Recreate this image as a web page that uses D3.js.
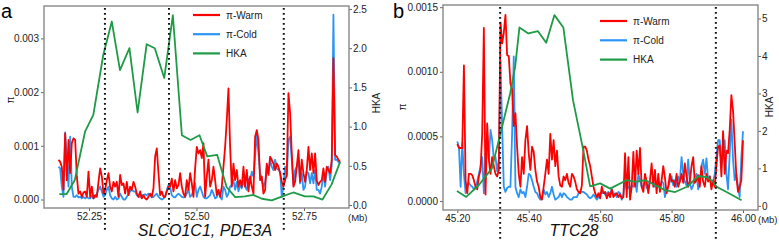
<!DOCTYPE html>
<html>
<head>
<meta charset="utf-8">
<script src="https://cdn.jsdelivr.net/npm/d3@7"></script>
<style>
  body { margin: 0; background: #fff; }
  svg { display: block; font-family: "Liberation Sans", Arial, sans-serif; }
</style>
</head>
<body>
<svg id="chart" width="779" height="240"></svg>
<script>
// ---- panel a : SLCO1C1, PDE3A ----
const windowsA = [52.179, 52.834]   // first and last window centre (Mb)
const warmA = [
  0.00074,0.00070,0.00061,0.00018,0.00123,0.00036,0.00111,0.00049,0.00105,0.00114,
  0.00111,0.00043,0.00011,0.00015,0.00005,0.00013,0.00015,0.00005,
  0.00052,0.00005,0.00024,0.00002,0.00008,0.00005,0.00033,0.00058,0.00043,0.00011,
  0.00018,0.00036,0.00049,0.00024,0.00015,0.00033,0.00024,0.00033,0.00005,0.00046,
  0.00027,0.00030,0.00011,0.00033,0.00008,0.00024,0.00018,0.00033,0.00024,0.00011,
  0.00005,0.00015,0.00002,0.00008,0.00002,0.00000,0.00005,0.00011,0.00005,0.00021,
  0.00080,0.00095,0.00049,0.00008,0.00015,0.00005,0.00005,0.00015,0.00024,0.00024,
  0.00039,0.00015,0.00036,0.00021,0.00027,0.00049,0.00024,0.00011,0.00005,0.00036,
  0.00018,0.00049,0.00030,0.00005,0.00058,0.00098,0.00086,0.00092,0.00077,0.00105,
  0.00005,0.00043,0.00074,0.00024,0.00036,0.00061,0.00036,0.00008,0.00018,0.00005,
  0.00024,0.00061,0.00098,0.00148,0.00207,0.00098,0.00024,0.00067,0.00036,0.00055,
  0.00024,0.00036,0.00024,0.00061,0.00024,0.00055,0.00015,0.00043,0.00024,0.00011,
  0.00117,0.00129,0.00111,0.00036,0.00043,0.00011,0.00018,0.00067,0.00046,0.00080,
  0.00074,0.00067,0.00055,0.00067,0.00061,0.00049,0.00033,0.00024,0.00036,0.00046,
  0.00198,0.00161,0.00086,0.00024,0.00033,0.00061,0.00092,0.00033,0.00074,0.00049,
  0.00033,0.00055,0.00098,0.00055,0.00086,0.00049,0.00086,0.00036,0.00027,0.00033,
  0.00036,0.00058,0.00033,0.00061,0.00055,0.00049,0.00074,0.00263,0.00083,0.00080,
  0.00074,0.00070
]
const coldA = [
  0.00061,0.00058,0.00024,0.00005,0.00125,0.00074,0.00024,0.00117,0.00024,0.00005,
  0.00005,0.00008,0.00004,0.00005,0.00002,0.00005,0.00002,0.00005,0.00002,0.00002,
  0.00007,0.00002,0.00004,0.00011,0.00018,0.00024,0.00015,0.00005,0.00008,0.00018,
  0.00024,0.00008,0.00002,0.00000,0.00005,0.00000,0.00002,0.00011,0.00005,0.00000,
  0.00000,0.00005,0.00011,0.00015,0.00018,0.00015,0.00015,0.00008,0.00005,0.00005,
  0.00008,0.00008,0.00010,0.00008,0.00011,0.00008,0.00004,0.00005,0.00008,0.00011,
  0.00005,0.00002,0.00000,0.00002,0.00005,0.00018,0.00027,0.00024,0.00008,0.00005,
  0.00004,0.00008,0.00011,0.00008,0.00005,0.00004,0.00005,0.00011,0.00019,0.00005,
  0.00008,0.00018,0.00030,0.00005,0.00018,0.00024,0.00015,0.00005,0.00002,0.00002,
  0.00005,0.00008,0.00018,0.00011,0.00002,0.00004,0.00015,0.00005,0.00000,0.00024,
  0.00018,0.00005,0.00011,0.00024,0.00027,0.00036,0.00018,0.00033,0.00015,0.00027,
  0.00021,0.00036,0.00024,0.00018,0.00039,0.00033,0.00052,0.00043,0.00080,0.00123,
  0.00086,0.00049,0.00036,0.00024,0.00033,0.00061,0.00049,0.00074,0.00061,0.00055,
  0.00074,0.00058,0.00055,0.00052,0.00005,0.00027,0.00061,0.00043,0.00111,0.00117,
  0.00074,0.00027,0.00055,0.00061,0.00074,0.00030,0.00049,0.00018,0.00024,0.00052,
  0.00049,0.00030,0.00049,0.00030,0.00055,0.00018,0.00018,0.00011,0.00024,0.00049,
  0.00024,0.00055,0.00061,0.00036,0.00064,0.00344,0.00074,0.00074,0.00070,0.00067
]
const hkaPosA = [52.181, 52.198, 52.217, 52.241, 52.260, 52.283, 52.303, 52.322, 52.344, 52.363,
  52.384, 52.403, 52.425, 52.445, 52.466, 52.486, 52.507, 52.525, 52.548, 52.570,
  52.590, 52.613, 52.632, 52.652, 52.675, 52.700, 52.725, 52.752, 52.772, 52.793,
  52.814, 52.834]
const hkaA = [0.14, 0.14, 0.32, 0.94, 1.15, 1.91, 2.34, 1.72, 2.00, 1.18,
  2.05, 2.00, 1.62, 2.42, 0.89, 0.83, 0.89, 0.62, 0.64, 0.23,
  0.10, 0.11, 0.13, 0.08, 0.06, 0.11, 0.16, 0.11, 0.11, 0.07,
  0.26, 0.55]
const markersA = [52.287, 52.436, 52.703]
const ticksXA = [52.25, 52.50, 52.75]
const ticksPiA = [0, 0.001, 0.002, 0.003]
const ticksHkaA = [0, 0.5, 1, 1.5, 2, 2.5]

// ---- panel b : TTC28 ----
const windowsB = [45.20, 46.00]
const warmB = [
  0.00044,0.00041,0.00041,0.00041,0.00105,0.00016,0.00006,0.00021,0.00021,0.00020,
  0.00016,0.00011,0.00009,0.00019,0.00024,0.00052,0.00134,0.00005,0.00060,0.00032,
  0.00021,0.00034,0.00027,0.00021,0.00019,0.00024,0.00138,0.00122,0.00130,0.00144,
  0.00113,0.00112,0.00091,0.00086,0.00058,0.00068,0.00042,0.00021,0.00011,0.00034,
  0.00021,0.00047,0.00058,0.00037,0.00024,0.00042,0.00038,0.00024,0.00015,0.00011,
  0.00003,0.00001,0.00011,0.00021,0.00032,0.00021,0.00052,0.00032,0.00047,0.00027,
  0.00039,0.00019,0.00012,0.00011,0.00019,0.00016,0.00021,0.00014,0.00011,0.00021,
  0.00019,0.00015,0.00009,0.00007,0.00006,0.00012,0.00042,0.00042,0.00039,0.00032,
  0.00027,0.00019,0.00011,0.00006,0.00003,0.00006,0.00002,0.00011,0.00006,0.00007,
  0.00002,0.00006,0.00003,0.00009,0.00003,0.00005,0.00006,0.00003,0.00005,0.00002,
  0.00003,0.00037,0.00003,0.00034,0.00001,0.00011,0.00038,0.00011,0.00039,0.00021,
  0.00041,0.00011,0.00007,0.00021,0.00015,0.00006,0.00016,0.00029,0.00011,0.00024,
  0.00006,0.00021,0.00007,0.00016,0.00027,0.00018,0.00006,0.00011,0.00021,0.00015,
  0.00016,0.00011,0.00021,0.00011,0.00015,0.00021,0.00014,0.00029,0.00019,0.00011,
  0.00015,0.00027,0.00034,0.00014,0.00016,0.00020,0.00011,0.00027,0.00015,0.00011,
  0.00021,0.00015,0.00019,0.00009,0.00016,0.00011,0.00027,0.00042,0.00043,0.00019,
  0.00054,0.00021,0.00039,0.00037,0.00055,0.00082,0.00070,0.00045,0.00019,0.00007,
  0.00011,0.00016,0.00047
]
const coldB = [
  0.00046,0.00042,0.00011,0.00045,0.00021,0.00006,0.00011,0.00014,0.00012,0.00011,
  0.00009,0.00011,0.00015,0.00021,0.00027,0.00034,0.00006,0.00034,0.00052,0.00032,
  0.00055,0.00047,0.00032,0.00034,0.00023,0.00032,0.00108,0.00058,0.00011,0.00007,
  0.00010,0.00011,0.00011,0.00052,0.00112,0.00011,0.00006,0.00003,0.00009,0.00006,
  0.00007,0.00003,0.00011,0.00021,0.00020,0.00016,0.00011,0.00007,0.00006,0.00003,
  0.00001,0.00003,0.00009,0.00005,0.00007,0.00003,0.00006,0.00011,0.00005,0.00001,
  0.00002,0.00003,0.00006,0.00003,0.00006,0.00005,0.00003,0.00002,0.00001,0.00001,
  0.00003,0.00003,0.00003,0.00006,0.00007,0.00007,0.00007,0.00006,0.00005,0.00003,
  0.00002,0.00003,0.00005,0.00003,0.00001,0.00003,0.00006,0.00006,0.00007,0.00005,
  0.00006,0.00007,0.00005,0.00009,0.00005,0.00006,0.00003,0.00007,0.00006,0.00001,
  0.00005,0.00015,0.00009,0.00011,0.00009,0.00012,0.00011,0.00019,0.00007,0.00021,
  0.00016,0.00011,0.00012,0.00015,0.00010,0.00011,0.00015,0.00014,0.00015,0.00011,
  0.00014,0.00012,0.00010,0.00015,0.00014,0.00003,0.00009,0.00011,0.00015,0.00019,
  0.00012,0.00016,0.00011,0.00019,0.00015,0.00034,0.00021,0.00015,0.00012,0.00032,
  0.00014,0.00009,0.00012,0.00019,0.00021,0.00009,0.00015,0.00027,0.00032,0.00021,
  0.00033,0.00016,0.00019,0.00011,0.00015,0.00021,0.00034,0.00047,0.00047,0.00027,
  0.00034,0.00047,0.00021,0.00009,0.00037,0.00063,0.00032,0.00016,0.00021,0.00011,
  0.00003,0.00034,0.00054
]
const hkaPosB = [45.199, 45.225, 45.260, 45.297, 45.330, 45.348, 45.362, 45.374, 45.399, 45.426,
  45.449, 45.472, 45.497, 45.524, 45.549, 45.572, 45.600, 45.628, 45.675, 45.698,
  45.726, 45.754, 45.782, 45.810, 45.843, 45.875, 45.898, 45.917, 45.926, 45.954,
  45.996]
const hkaB = [0.40, 0.24, 0.55, 1.00, 2.29, 3.00, 3.71, 4.76, 4.60, 4.66,
  4.35, 5.09, 4.76, 2.82, 1.66, 0.52, 0.60, 0.46, 0.69, 0.64,
  0.69, 0.55, 0.42, 0.37, 0.51, 0.79, 0.77, 0.64, 0.51, 0.37,
  0.15]
const markersB = [45.32, 45.924]
const ticksXB = [45.20, 45.40, 45.60, 45.80, 46.00]
const ticksPiB = [0, 0.0005, 0.0010, 0.0015]
const ticksHkaB = [0, 1, 2, 3, 4, 5]

const seriesNames = ["π-Warm", "π-Cold", "HKA"]
const seriesColors = ["#ff0000", "#2b95f5", "#1f9a46"]

const svg = d3.select("#chart")

function drawPanel(p) {
  const g = svg.append("g")
  const f = p.frame

  const x = d3.scaleLinear().domain(p.xDomain).range([f.x0, f.x1])
  const yPi = d3.scaleLinear().domain(p.piDomain).range([f.y1, f.y0])
  const yHka = d3.scaleLinear().domain(p.hkaDomain).range([f.y1, f.y0])
  // window index -> Mb
  const win = d3.scaleLinear().domain([0, p.warm.length - 1]).range(p.windows)

  const clipId = "clip-" + p.letter
  svg.append("clipPath").attr("id", clipId)
    .append("rect").attr("x", f.x0).attr("y", f.y0)
    .attr("width", f.x1 - f.x0).attr("height", f.y1 - f.y0)

  // axes
  const styleAxis = (sel) => {
    sel.select(".domain").remove()
    sel.selectAll(".tick line").attr("stroke", "#666")
    sel.selectAll(".tick text").attr("fill", "#222").attr("font-size", "10px")
      .attr("font-family", "Liberation Sans, Arial, sans-serif")
  }

  g.append("g").attr("transform", `translate(${f.x0},0)`)
    .call(d3.axisLeft(yPi).tickValues(p.ticksPi).tickFormat(d3.format(p.piFmt)).tickSize(3).tickPadding(2))
    .call(styleAxis)

  g.append("g").attr("transform", `translate(${f.x1},0)`)
    .call(d3.axisRight(yHka).tickValues(p.ticksHka).tickFormat(d3.format(p.hkaFmt)).tickSize(3).tickPadding(1))
    .call(styleAxis)

  g.append("g").attr("transform", `translate(0,${f.y1})`)
    .call(d3.axisBottom(x).tickValues(p.ticksX).tickFormat(d3.format(".2f")).tickSize(3).tickPadding(2))
    .call(styleAxis)

  const plot = g.append("g").attr("clip-path", `url(#${clipId})`)

  const piLine = d3.line().x((d, i) => x(win(i))).y((d) => yPi(d))
  plot.append("path").datum(p.cold)
    .attr("fill", "none").attr("stroke", seriesColors[1]).attr("stroke-width", 1.8)
    .attr("stroke-linejoin", "round").attr("d", piLine)
  plot.append("path").datum(p.warm)
    .attr("fill", "none").attr("stroke", seriesColors[0]).attr("stroke-width", 1.8)
    .attr("stroke-linejoin", "round").attr("d", piLine)

  const hkaLine = d3.line().x((d, i) => x(p.hkaPos[i])).y((d) => yHka(d))
  plot.append("path").datum(p.hka)
    .attr("fill", "none").attr("stroke", seriesColors[2]).attr("stroke-width", 1.8)
    .attr("stroke-linejoin", "round").attr("d", hkaLine)

  // frame
  g.append("rect")
    .attr("x", f.x0).attr("y", f.y0)
    .attr("width", f.x1 - f.x0).attr("height", f.y1 - f.y0)
    .attr("fill", "none").attr("stroke", "#888").attr("stroke-width", 1.4)

  // dotted marker lines
  g.selectAll(".marker")
    .data(p.markers)
    .enter()
    .append("line")
    .attr("class", "marker")
    .attr("x1", (d) => x(d)).attr("x2", (d) => x(d))
    .attr("y1", p.markerY[0]).attr("y2", p.markerY[1])
    .attr("stroke", "#111").attr("stroke-width", 2)
    .attr("stroke-dasharray", "1.8,3.2")

  // legend
  const lg = g.append("g").attr("transform", `translate(${p.legend.x},${p.legend.y})`)
  seriesNames.forEach((name, i) => {
    const yy = i * p.legend.gap
    lg.append("line").attr("x1", 0).attr("x2", 27).attr("y1", yy).attr("y2", yy)
      .attr("stroke", seriesColors[i]).attr("stroke-width", 2.2)
    lg.append("text").attr("x", 33).attr("y", yy).attr("dy", "0.35em")
      .attr("font-size", "10px").attr("fill", "#222").text(name)
  })

  // axis titles
  g.append("text")
    .attr("transform", `translate(${p.piTitle[0]},${p.piTitle[1]}) rotate(-90)`)
    .attr("text-anchor", "middle").attr("font-size", "10px").attr("fill", "#222").text("π")
  g.append("text")
    .attr("transform", `translate(${p.hkaTitle[0]},${p.hkaTitle[1]}) rotate(-90)`)
    .attr("text-anchor", "middle").attr("font-size", "10px").attr("fill", "#222").text("HKA")
  g.append("text")
    .attr("x", p.mbX).attr("y", f.y1 + 13)
    .attr("font-size", "9.5px").attr("fill", "#222").text("(Mb)")

  // gene name
  g.append("text")
    .attr("x", p.gene.x).attr("y", 236)
    .attr("text-anchor", "middle").attr("font-size", "16px").attr("font-style", "italic")
    .attr("fill", "#111")
    .attr("stroke", "#fff").attr("stroke-width", 3).attr("paint-order", "stroke")
    .text(p.gene.name)

  // panel letter
  g.append("text")
    .attr("x", p.letterX).attr("y", 18)
    .attr("font-size", "20px").attr("fill", "#000").text(p.letter)
}

drawPanel({
  letter: "a", letterX: 1,
  frame: { x0: 44, x1: 349, y0: 6, y1: 208 },
  xDomain: [52.1453, 52.8547],
  piDomain: [-0.000158, 0.003603],
  hkaDomain: [-0.038, 2.538],
  windows: windowsA, warm: warmA, cold: coldA,
  hkaPos: hkaPosA, hka: hkaA,
  markers: markersA, markerY: [8, 232],
  ticksX: ticksXA, ticksPi: ticksPiA, ticksHka: ticksHkaA,
  piFmt: ".3f", hkaFmt: ".1f",
  legend: { x: 193, y: 15, gap: 19.2 },
  piTitle: [14, 100], hkaTitle: [380, 103], mbX: 348,
  gene: { name: "SLCO1C1, PDE3A", x: 205 }
})

drawPanel({
  letter: "b", letterX: 393,
  frame: { x0: 443, x1: 758, y0: 5, y1: 210 },
  xDomain: [45.160, 46.042],
  piDomain: [-0.00007, 0.001517],
  hkaDomain: [-0.11, 5.36],
  windows: windowsB, warm: warmB, cold: coldB,
  hkaPos: hkaPosB, hka: hkaB,
  markers: markersB, markerY: [7, 240],
  ticksX: ticksXB, ticksPi: ticksPiB, ticksHka: ticksHkaB,
  piFmt: ".4f", hkaFmt: "d",
  legend: { x: 600, y: 21, gap: 19.3 },
  piTitle: [406, 107], hkaTitle: [773, 107], mbX: 758,
  gene: { name: "TTC28", x: 574 }
})
</script>
</body>
</html>
